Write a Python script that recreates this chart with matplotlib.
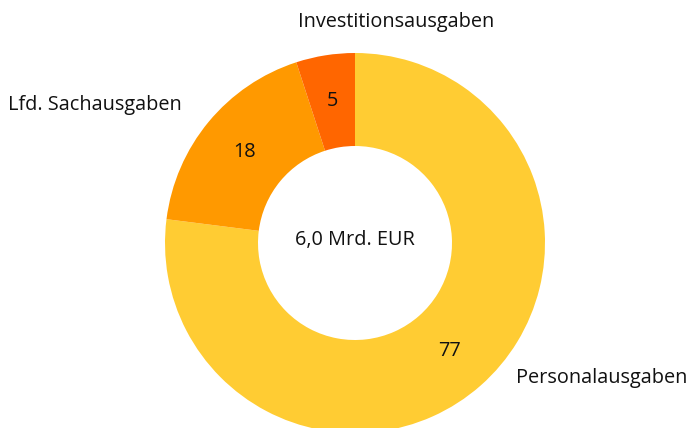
import matplotlib
matplotlib.use('Agg')
import matplotlib.pyplot as plt

# shares of expenses in percent (clockwise from the top)
categories = ['Personalausgaben', 'Lfd. Sachausgaben', 'Investitionsausgaben']
values = [77, 18, 5]
colors = ['#FFCC33', '#FF9900', '#FF6600']
total_label = '6,0 Mrd. EUR'

plt.rcParams['font.family'] = ['Open Sans', 'DejaVu Sans']
fs = 14.3

fig = plt.figure(figsize=(6.95, 4.28), dpi=100)
ax = fig.add_axes([0, 0, 1, 1])

R = 190
ring = 93
wedges, texts, autotexts = ax.pie(
    values, colors=colors, startangle=90, counterclock=False,
    center=(355, 185), radius=R, frame=True,
    autopct=lambda p: '%d' % round(p),
    pctdistance=(R - ring / 2) / R,
    wedgeprops=dict(width=ring, linewidth=0),
    textprops=dict(fontsize=fs, color='#111111'))
ax.set_xlim(0, 695)
ax.set_ylim(0, 428)
ax.set_aspect('equal')
ax.axis('off')

ax.text(355, 188, total_label, ha='center', va='center', fontsize=fs, color='#111111')

lab_kw = dict(fontsize=fs, color='#111111', va='center')
ax.text(396, 406, categories[2], ha='center', **lab_kw)
ax.text(8, 323, categories[1], ha='left', **lab_kw)
ax.text(516, 50, categories[0], ha='left', **lab_kw)

fig.savefig('out.png', dpi=100)
